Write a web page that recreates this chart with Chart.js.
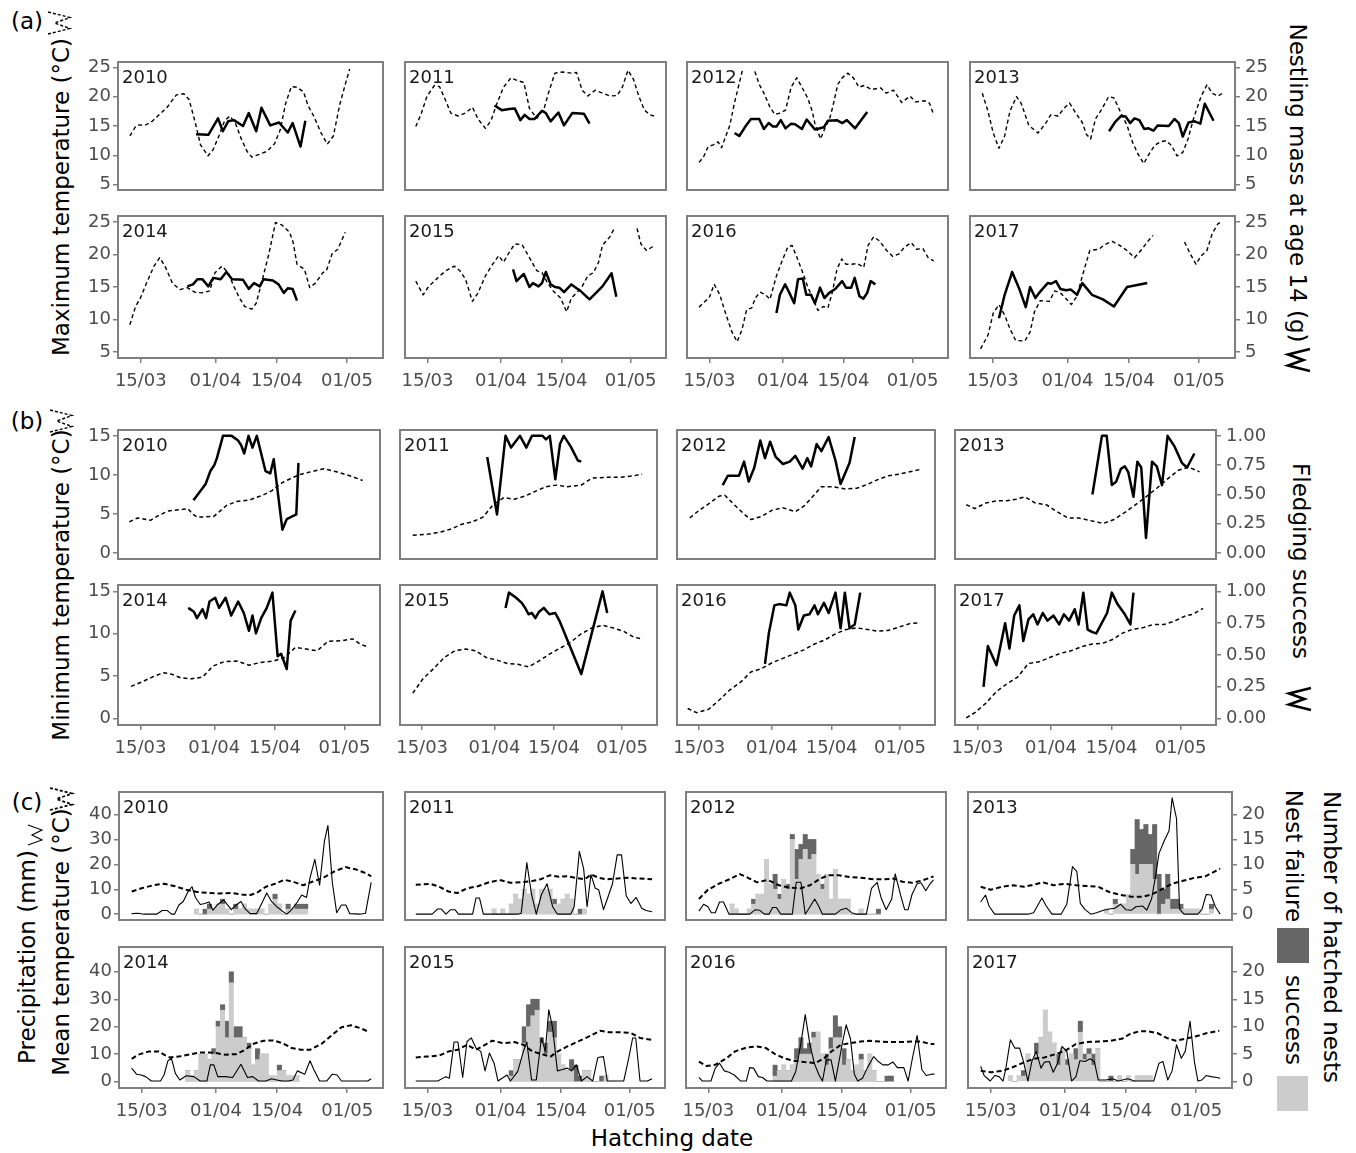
<!DOCTYPE html>
<html>
<head>
<meta charset="utf-8">
<title>Weather, hatching date and breeding performance 2010–2017</title>
<script src="https://cdn.jsdelivr.net/npm/chart.js@4.4.1/dist/chart.umd.min.js"></script>
<style>
  html, body { margin: 0; padding: 0; background: #fff; }
  body { position: relative; width: 1356px; height: 1153px; overflow: hidden; font-family: 'DejaVu Sans', sans-serif; }
  canvas { position: absolute; }
  .t { position: absolute; white-space: nowrap; color: #000; font-size: 23px; line-height: 1; transform: translate(-50%, -50%); }
  .up { transform: translate(-50%, -50%) rotate(-90deg); }
  .down { transform: translate(-50%, -50%) rotate(90deg); }
  svg.key { position: absolute; overflow: visible; }
  .swatch { position: absolute; }
</style>
</head>
<body>

<div class="t" style="left:27px;top:21px">(a)</div>
<div class="t" style="left:27px;top:421px">(b)</div>
<div class="t" style="left:27px;top:802px">(c)</div>

<div class="t up" style="left:61px;top:197px">Maximum temperature (°C)</div>
<div class="t up" style="left:61px;top:585px">Minimum temperature (°C)</div>
<div class="t up" style="left:61px;top:942px">Mean temperature (°C)</div>
<div class="t up" style="left:27px;top:957px">Precipitation (mm)</div>

<div class="t down" style="left:1297px;top:183px">Nestling mass at age 14 (g)</div>
<div class="t down" style="left:1300px;top:561px">Fledging success</div>
<div class="t down" style="left:1331px;top:937px">Number of hatched nests</div>
<div class="t down" style="left:1293px;top:856px">Nest failure</div>
<div class="t down" style="left:1293px;top:1020px">success</div>
<div class="swatch" style="left:1277px;top:928px;width:32px;height:35px;background:#666666"></div>
<div class="swatch" style="left:1277px;top:1076px;width:31px;height:35px;background:#cccccc"></div>

<div class="t" style="left:672px;top:1138px">Hatching date</div>

<!-- line keys drawn beside the axis titles -->
<svg class="key" style="left:48px;top:12px" width="22" height="22"><polyline points="0,22 22,16.5 6.6,11 22,5.5 0,0" fill="none" stroke="#000" stroke-width="1.4" stroke-dasharray="3,2"/></svg>
<svg class="key" style="left:50px;top:410px" width="22" height="22"><polyline points="0,22 22,16.5 6.6,11 22,5.5 0,0" fill="none" stroke="#000" stroke-width="1.4" stroke-dasharray="3,2"/></svg>
<svg class="key" style="left:50px;top:788px" width="22" height="22"><polyline points="0,22 22,16.5 6.6,11 22,5.5 0,0" fill="none" stroke="#000" stroke-width="1.8" stroke-dasharray="3,2"/></svg>
<svg class="key" style="left:28px;top:825px" width="14" height="20"><polyline points="0,20 14,15 4,10 14,5 0,0" fill="none" stroke="#000" stroke-width="1.1"/></svg>
<svg class="key" style="left:1288px;top:349px" width="22" height="22"><polyline points="22,0 0,5.5 15.4,11 0,16.5 22,22" fill="none" stroke="#000" stroke-width="2.6"/></svg>
<svg class="key" style="left:1289px;top:688px" width="22" height="22"><polyline points="22,0 0,5.5 15.4,11 0,16.5 22,22" fill="none" stroke="#000" stroke-width="2.6"/></svg>

<script>
// ---------------------------------------------------------------------------
// Data. Days are counted from 1 March (= day 1), so 1 April = day 32.
// Each series holds one list per year, in the order of YEARS.
// Line series are [day, value] pairs; a null value marks a break in the line.
// Nest counts are [hatching day, number of nests].
// ---------------------------------------------------------------------------
const YEARS = [2010, 2011, 2012, 2013, 2014, 2015, 2016, 2017];

const DAY_TICKS = [15, 32, 46, 62];
const DAY_TICK_LABELS = ['15/03', '01/04', '15/04', '01/05'];

const MAX_TEMP_TICKS = [5, 10, 15, 20, 25];
const MASS_TICKS = [5, 10, 15, 20, 25];
const MIN_TEMP_TICKS = [0, 5, 10, 15];
const FLEDGING_TICKS = [0, 0.25, 0.5, 0.75, 1];
const RAIN_TEMP_TICKS = [0, 10, 20, 30, 40];
const NEST_TICKS = [0, 5, 10, 15, 20];

// (a) maximum temperature (°C)
const maxTemp = [
  [[12.5,13.3],[13.8,14.9],[14.6,15.2],[15.9,15.1],[17.6,15.8],[19.3,17.0],[21.0,18.2],[23.1,20.3],[24.8,20.5],[26.0,19.5],[27.3,15.9],[28.6,11.8],[30.3,9.9],[31.5,11.0],[32.8,13.3],[34.1,15.9],[35.3,16.7],[36.6,15.4],[37.9,12.8],[39.2,10.7],[40.3,9.7],[42.1,10.2],[43.8,10.7],[45.5,12.0],[46.8,14.4],[48.0,18.8],[49.3,21.7],[50.6,21.6],[52.1,20.8],[53.1,18.5],[54.4,16.7],[56.1,13.8],[57.5,11.9],[58.9,13.3],[60.3,18.5],[61.6,22.1],[62.6,24.7]],
  [[12.3,14.9],[13.6,17.2],[14.9,20.1],[16.6,21.9],[17.8,21.7],[19.1,19.5],[20.4,17.2],[22.1,16.7],[23.8,17.2],[25.4,18.2],[26.7,16.2],[28.4,14.6],[29.7,15.9],[30.9,18.5],[32.6,21.6],[34.3,23.2],[36.0,22.7],[37.3,22.4],[38.6,18.0],[40.3,16.3],[42.0,18.0],[43.2,21.1],[44.5,24.0],[46.2,24.2],[48.3,24.0],[49.5,24.1],[50.8,21.1],[52.1,20.1],[53.8,21.1],[55.5,20.6],[57.2,20.1],[58.9,20.2],[60.1,21.6],[61.4,24.5],[62.7,22.9],[63.9,20.1],[65.2,17.7],[66.5,16.9],[67.4,16.7]],
  [[12.6,8.8],[13.6,9.7],[14.7,11.5],[15.9,11.8],[17.0,12.3],[17.8,11.3],[18.7,13.1],[19.7,15.1],[20.8,19.0],[22.1,22.9],[22.7,24.7],[24.0,null],[25.5,24.3],[26.5,22.1],[27.6,20.6],[29.0,18.2],[30.1,17.0],[31.4,17.2],[32.6,17.7],[33.9,21.6],[35.2,23.2],[36.4,21.6],[37.7,19.8],[38.8,17.5],[39.4,15.4],[40.7,12.8],[41.7,14.6],[42.8,16.2],[43.6,18.5],[44.7,22.1],[45.7,23.2],[47.0,24.0],[48.3,23.2],[49.6,21.6],[50.8,21.9],[52.5,21.2],[54.6,21.5],[55.9,20.6],[57.6,21.1],[59.5,19.0],[61.4,20.1],[62.7,19.1],[64.8,19.3],[65.9,18.9],[66.9,16.9]],
  [[12.6,20.6],[13.9,17.5],[15.1,13.8],[16.4,11.2],[17.7,13.3],[18.9,17.5],[20.4,20.0],[21.5,18.8],[23.2,15.1],[25.3,13.8],[27.0,15.4],[28.2,16.9],[29.9,16.7],[31.2,18.0],[32.5,18.9],[33.9,17.2],[35.4,15.6],[36.3,13.6],[37.3,12.8],[38.4,16.2],[39.7,17.7],[41.4,20.0],[42.6,19.8],[43.9,17.7],[45.6,15.1],[46.8,12.3],[48.1,10.2],[49.4,8.6],[50.6,10.2],[51.9,11.7],[53.2,12.3],[54.5,12.5],[55.7,11.7],[57.0,9.9],[58.3,10.5],[59.5,12.8],[60.8,16.4],[62.5,20.1],[63.8,22.0],[65.0,20.6],[66.3,20.1],[67.4,20.6]],
  [[12.5,9.2],[13.8,12.0],[14.9,13.3],[16.3,15.6],[18.0,18.2],[19.3,19.5],[20.5,18.2],[22.2,15.6],[23.9,14.6],[25.6,14.9],[27.3,14.2],[28.9,14.1],[30.7,14.4],[31.9,17.2],[33.5,18.2],[34.9,17.2],[36.2,15.1],[37.5,13.3],[38.7,12.0],[40.3,11.6],[41.3,12.5],[42.5,15.6],[44.2,20.1],[45.7,24.9],[47.2,24.5],[48.9,23.4],[49.7,21.9],[50.6,18.5],[52.3,17.7],[53.5,14.9],[54.8,15.6],[56.5,17.2],[57.3,17.5],[58.6,20.1],[59.9,20.8],[61.6,23.4]],
  [[12.3,15.9],[14.0,13.8],[15.3,15.1],[16.6,15.9],[17.8,16.7],[19.5,17.6],[21.2,18.2],[22.5,17.5],[23.8,16.2],[25.4,12.8],[26.7,14.1],[28.4,16.7],[30.1,18.5],[31.5,19.8],[32.6,18.8],[33.9,20.3],[35.2,21.6],[36.9,21.5],[38.6,19.5],[40.3,17.5],[41.5,17.2],[42.8,15.6],[44.1,14.4],[45.8,13.3],[47.2,11.2],[48.3,13.3],[49.5,14.1],[50.8,15.1],[52.1,16.7],[53.4,17.2],[54.6,18.8],[55.5,21.4],[57.2,22.7],[58.4,24.2],[61.0,null],[63.5,24.0],[64.4,21.6],[65.7,20.6],[66.9,21.1],[67.4,21.4]],
  [[12.6,11.9],[13.6,12.6],[14.9,13.3],[16.1,15.4],[17.4,13.8],[18.7,11.0],[20.2,8.1],[21.4,6.6],[22.5,8.4],[23.6,11.5],[24.8,11.8],[25.6,13.3],[26.7,14.2],[28.0,13.8],[29.0,13.1],[30.5,16.7],[31.8,19.0],[33.1,21.1],[34.1,21.4],[35.4,19.3],[36.6,17.2],[37.7,15.1],[39.0,13.1],[40.1,11.4],[41.3,12.0],[42.4,11.8],[43.4,14.1],[44.5,17.7],[45.6,19.3],[46.6,18.5],[47.9,18.5],[49.2,18.6],[50.7,18.0],[51.7,21.4],[53.0,22.7],[54.3,22.1],[56.0,20.6],[57.4,19.7],[58.9,20.1],[60.1,21.1],[61.7,21.8],[62.9,20.8],[64.4,20.9],[65.6,19.5],[66.9,19.0]],
  [[12.2,5.5],[13.9,7.6],[15.1,11.0],[16.4,12.3],[17.7,10.7],[18.9,8.6],[20.2,6.8],[22.3,6.7],[23.5,8.1],[24.5,11.2],[25.8,12.9],[27.9,12.8],[29.1,14.4],[30.4,14.1],[31.7,13.2],[32.9,12.3],[34.2,13.6],[35.4,16.7],[37.1,20.6],[39.2,20.8],[40.5,21.5],[42.2,22.0],[43.9,21.4],[45.6,20.6],[47.3,19.5],[49.0,20.8],[50.2,21.9],[51.5,22.9],[55.0,null],[58.7,21.9],[60.0,20.1],[61.3,18.5],[62.5,19.8],[63.8,20.6],[65.0,23.2],[66.3,24.7],[67.1,25.0]]
];

// (a) nestling mass at age 14 (g), by hatching date
const nestlingMass = [
  [[27.6,13.6],[30.4,13.5],[32.6,16.3],[33.7,14.1],[34.9,15.8],[36.2,16.0],[38.3,15.0],[39.6,17.2],[41.3,14.1],[42.5,18.1],[44.5,15.1],[46.5,15.6],[48.5,13.9],[49.6,15.5],[51.4,11.5],[52.5,15.9]],
  [[30.5,18.5],[32.2,17.7],[33.9,17.9],[35.2,18.0],[36.5,16.0],[37.5,16.9],[38.6,16.2],[39.8,16.2],[41.5,17.6],[42.4,17.2],[43.5,15.8],[45.3,17.3],[46.6,15.1],[48.5,17.2],[51.2,17.1],[52.5,15.4]],
  [[20.8,13.8],[21.9,13.3],[23.3,14.9],[24.6,16.2],[26.5,16.2],[27.6,14.5],[28.7,15.5],[29.7,14.9],[30.5,14.9],[31.5,16.0],[32.6,14.6],[33.9,15.4],[34.8,15.3],[36.4,14.5],[37.5,16.1],[39.4,14.4],[41.5,14.8],[42.4,15.9],[44.5,16.0],[45.7,15.5],[46.8,16.0],[48.7,14.6],[51.5,17.4]],
  [[41.5,14.1],[42.8,15.6],[44.2,16.7],[45.3,16.6],[46.3,15.5],[47.3,16.3],[48.4,16.0],[49.5,14.5],[50.5,14.6],[51.6,14.2],[52.6,15.1],[55.1,15.0],[56.4,16.2],[57.4,15.5],[58.3,13.2],[59.6,15.6],[61.0,15.8],[62.3,15.4],[63.3,18.8],[65.3,15.9]],
  [[25.6,15.1],[26.9,15.4],[27.9,16.2],[29.0,16.2],[30.4,15.1],[31.5,16.4],[33.2,16.2],[34.5,17.3],[35.8,16.2],[38.3,16.1],[39.6,14.7],[40.8,15.6],[42.1,15.1],[43.0,16.2],[45.1,16.0],[46.4,15.4],[47.6,14.1],[48.5,14.8],[49.6,14.7],[50.6,12.9]],
  [[34.8,17.7],[35.6,15.9],[37.3,17.0],[38.6,15.0],[39.4,15.6],[40.7,15.1],[41.5,15.6],[42.4,17.3],[43.5,15.4],[44.5,15.0],[45.5,14.9],[46.6,14.2],[48.3,15.4],[50.4,14.4],[52.5,13.1],[55.5,15.1],[57.6,17.1],[58.7,13.5]],
  [[30.5,11.0],[31.3,13.8],[32.5,15.4],[33.5,14.1],[34.6,12.5],[35.5,16.2],[36.6,16.3],[37.4,13.8],[38.5,13.8],[39.4,12.5],[40.6,14.9],[41.6,13.3],[42.7,14.1],[44.1,14.7],[45.7,15.9],[46.6,14.9],[47.8,14.9],[48.6,16.4],[49.7,13.6],[50.6,13.2],[51.5,14.1],[52.3,15.9],[53.4,15.4]],
  [[16.4,10.2],[17.7,13.8],[19.4,17.3],[21.1,14.6],[22.5,11.9],[23.5,15.0],[24.7,13.3],[25.8,14.3],[27.5,15.6],[28.3,15.5],[29.4,15.9],[30.4,14.7],[31.7,14.5],[32.8,14.6],[34.2,13.8],[35.4,15.6],[37.6,13.8],[40.1,13.1],[42.6,12.0],[45.6,15.0],[50.2,15.6]]
];

// (b) minimum temperature (°C)
const minTemp = [
  [[12.4,4.0],[14.3,4.5],[17.3,4.2],[19.1,4.8],[21.4,5.4],[24.8,5.6],[25.9,5.7],[27.0,5.0],[28.1,4.6],[31.9,4.7],[34.8,6.1],[37.1,6.6],[40.1,6.8],[43.1,7.4],[45.3,8.0],[47.6,9.0],[49.8,9.6],[52.0,10.1],[55.0,10.5],[57.3,10.8],[60.2,10.4],[63.2,9.9],[66.2,9.3]],
  [[12.8,2.3],[16.1,2.4],[19.4,2.7],[21.9,3.1],[24.3,3.7],[26.8,4.0],[29.3,4.6],[31.7,6.2],[34.2,7.1],[36.7,6.9],[39.2,7.3],[41.6,7.9],[44.1,8.5],[46.6,8.7],[49.1,8.5],[52.4,8.7],[54.9,9.6],[58.2,9.7],[61.5,9.7],[64.8,9.9],[66.7,10.1]],
  [[12.8,4.5],[14.8,5.4],[17.2,6.3],[19.7,7.3],[21.0,7.4],[23.0,6.3],[25.5,5.0],[27.1,4.3],[29.6,4.7],[32.1,5.5],[34.6,5.8],[37.5,5.3],[39.5,6.0],[42.0,7.5],[43.6,8.5],[46.1,8.5],[49.4,8.2],[51.9,8.3],[54.4,8.8],[56.8,9.4],[59.3,9.9],[61.8,10.1],[64.3,10.4],[66.7,10.7]],
  [[12.4,6.2],[14.4,5.7],[16.9,6.4],[19.4,6.7],[21.8,6.7],[24.0,6.9],[26.0,7.2],[28.4,6.4],[30.9,6.2],[33.4,5.3],[35.9,4.5],[38.4,4.5],[40.8,4.2],[44.1,3.8],[46.6,4.3],[49.1,5.2],[51.6,6.2],[54.0,7.2],[56.5,8.3],[59.0,9.5],[61.5,10.6],[63.9,11.0],[66.4,10.4]],
  [[12.8,3.8],[15.2,4.3],[17.7,4.9],[20.2,5.4],[21.8,5.3],[24.3,4.8],[26.8,4.7],[29.3,4.9],[31.7,6.2],[34.2,6.7],[37.2,6.8],[40.0,6.3],[42.5,6.6],[45.8,6.8],[48.2,7.2],[50.7,8.4],[53.2,8.2],[55.7,8.0],[58.2,9.1],[61.5,9.2],[63.9,9.4],[65.6,8.8],[67.6,8.4]],
  [[12.8,3.0],[15.2,4.7],[17.7,5.9],[20.2,7.2],[22.7,8.0],[25.1,8.2],[27.6,8.0],[30.1,7.2],[32.6,6.9],[35.0,6.5],[37.5,6.4],[40.0,6.1],[42.5,6.8],[44.9,7.6],[47.4,8.3],[49.9,9.0],[52.4,10.0],[54.9,10.7],[57.4,11.0],[59.8,10.7],[62.3,10.3],[64.8,9.6],[66.7,9.4]],
  [[12.3,1.2],[14.4,0.7],[17.2,1.1],[19.7,2.2],[22.2,3.4],[24.7,4.3],[27.1,5.5],[29.6,5.9],[32.1,6.6],[34.6,7.1],[37.0,7.6],[39.5,8.1],[42.0,8.8],[44.5,9.3],[46.9,10.0],[49.4,10.5],[51.9,10.7],[54.4,10.5],[56.8,10.3],[59.3,10.4],[61.8,10.8],[64.3,11.2],[66.7,11.3]],
  [[12.4,0.1],[14.4,0.7],[16.9,1.8],[19.4,3.2],[21.8,4.1],[24.3,4.9],[26.8,6.5],[29.3,6.7],[31.7,7.2],[34.2,7.7],[36.7,8.0],[39.2,8.5],[41.6,8.8],[44.1,8.9],[46.6,9.4],[48.2,10.0],[50.7,10.5],[53.2,10.7],[55.7,11.1],[58.2,11.1],[60.6,11.5],[63.1,12.1],[64.8,12.3],[67.2,13.0]]
];

// (b) fledging success (proportion of nestlings fledged), by hatching date
const fledgingSuccess = [
  [[27.2,0.45],[30.0,0.59],[31.1,0.70],[32.0,0.75],[32.6,0.81],[34.0,1.0],[36.0,1.0],[37.5,0.96],[38.2,0.92],[38.9,0.85],[39.9,1.0],[40.8,0.90],[41.8,1.0],[43.8,0.70],[44.9,0.68],[45.7,0.80],[47.7,0.20],[48.7,0.29],[50.9,0.33],[51.4,0.77]],
  [[30.3,0.82],[32.6,0.33],[34.6,1.0],[35.9,0.90],[38.0,1.0],[39.5,0.90],[40.8,1.0],[43.3,1.0],[44.1,0.97],[45.0,1.0],[46.3,0.63],[47.4,0.93],[48.3,1.0],[49.9,0.91],[51.6,0.79],[52.4,0.78]],
  [[20.5,0.58],[21.7,0.66],[24.3,0.66],[25.5,0.78],[26.6,0.61],[27.9,0.73],[29.3,0.96],[30.4,0.81],[31.6,0.95],[32.9,0.82],[34.6,0.76],[36.2,0.78],[37.5,0.83],[39.2,0.72],[40.3,0.81],[41.2,0.74],[42.5,0.93],[43.6,0.87],[45.3,0.99],[46.9,0.79],[48.1,0.59],[50.2,0.77],[51.4,0.99]],
  [[41.6,0.50],[43.8,1.0],[44.9,1.0],[46.1,0.58],[47.1,0.61],[48.2,0.72],[49.1,0.74],[49.9,0.69],[51.1,0.48],[52.0,0.78],[52.9,0.73],[54.0,0.13],[55.4,0.78],[56.5,0.74],[57.7,0.58],[59.0,1.0],[60.6,0.91],[62.3,0.77],[63.5,0.73],[65.2,0.85]],
  [[26.0,0.87],[27.3,0.84],[28.0,0.79],[29.3,0.86],[30.1,0.79],[30.9,0.92],[32.2,0.95],[33.1,0.87],[34.6,0.95],[35.9,0.81],[37.5,0.92],[38.8,0.83],[40.0,0.69],[40.8,0.81],[41.6,0.67],[42.8,0.79],[44.1,0.87],[45.4,0.99],[46.6,0.49],[47.4,0.51],[48.7,0.39],[49.6,0.77],[50.7,0.85]],
  [[34.6,0.87],[35.4,0.99],[37.1,0.95],[38.4,0.91],[39.2,0.87],[40.0,0.82],[40.8,0.83],[41.6,0.79],[42.5,0.84],[43.6,0.87],[44.9,0.82],[46.3,0.83],[47.4,0.76],[52.4,0.35],[57.4,1.0],[58.5,0.83]],
  [[30.4,0.43],[31.3,0.67],[32.6,0.89],[33.7,0.90],[35.4,0.89],[36.2,0.99],[37.5,0.89],[38.2,0.70],[39.5,0.81],[40.8,0.82],[42.0,0.89],[42.8,0.82],[44.2,0.91],[45.3,0.83],[46.9,0.99],[48.1,0.71],[49.1,0.99],[50.2,0.71],[51.4,0.74],[52.7,0.99]],
  [[16.4,0.25],[17.4,0.57],[19.4,0.42],[21.4,0.75],[22.4,0.55],[23.5,0.81],[24.7,0.89],[25.6,0.61],[26.8,0.78],[27.9,0.82],[28.9,0.74],[30.1,0.83],[31.2,0.77],[32.6,0.81],[33.9,0.74],[35.0,0.82],[36.2,0.77],[37.5,0.86],[38.4,0.74],[39.5,0.99],[40.5,0.70],[41.6,0.68],[42.5,0.67],[45.0,0.83],[46.1,0.99],[47.4,0.90],[49.1,0.82],[50.4,0.74],[51.1,0.99]]
];

// (c) daily precipitation (mm)
const precipitation = [
  [[12.7,0.2],[14.2,0.4],[15.5,0],[18.4,0],[19.7,1.5],[20.8,1.5],[21.8,0],[22.5,0],[23.5,3.7],[24.5,5.1],[25.6,9.1],[26.5,11.0],[27.3,6.7],[28.4,3.9],[29.4,4.3],[30.4,4.9],[31.3,1.6],[32.4,3.9],[33.7,5.7],[34.5,4.0],[35.5,1.8],[36.6,3.7],[37.7,5.1],[38.7,2.1],[39.8,0.2],[41.3,0.2],[42.5,4.5],[43.6,8.5],[44.7,5.1],[45.9,3.0],[47.2,1.2],[48.2,0],[49.3,1.8],[50.6,4.9],[51.6,7.7],[52.7,6.7],[53.5,14.6],[54.6,22.0],[55.7,11.6],[56.8,29.3],[57.6,35.6],[58.6,12.8],[59.6,0.6],[60.7,3.7],[61.7,3.7],[62.6,0.2],[64.9,0],[66.2,0.4],[67.5,12.8]],
  [[12.3,0],[16.1,0],[17.4,2.1],[18.2,2.1],[19.3,0],[20.4,1.8],[21.4,1.8],[22.2,0],[25.5,0],[26.3,6.5],[27.1,6.5],[28.0,0],[36.0,0],[36.8,0.4],[38.1,20.7],[39.2,7.9],[40.3,0],[41.5,7.9],[42.8,12.2],[44.1,3.0],[45.2,0],[48.3,0],[49.1,3.0],[50.3,25.2],[51.3,18.3],[52.1,3.0],[53.0,15.9],[54.0,10.4],[54.8,9.8],[55.9,1.8],[56.8,6.1],[58.0,12.2],[59.1,23.8],[60.1,23.8],[61.2,7.3],[62.3,4.3],[63.5,6.7],[64.8,2.4],[65.8,1.5],[67.2,1.0]],
  [[12.8,1.2],[13.9,4.0],[14.9,3.0],[15.7,0.6],[16.6,0.6],[17.6,4.9],[18.5,4.9],[19.8,0],[24.6,0],[25.9,1.8],[26.9,1.6],[28.0,0],[29.1,0],[29.9,2.7],[30.8,2.7],[31.8,0],[34.5,0],[35.4,12.8],[36.5,12.8],[37.5,0],[38.6,3.0],[39.7,6.1],[40.7,3.0],[41.5,0],[44.5,0],[45.8,1.8],[47.0,2.4],[48.3,0.6],[49.4,0],[51.7,0],[52.9,10.4],[54.2,12.8],[55.1,6.7],[56.3,1.8],[57.6,6.1],[58.4,16.2],[59.7,7.3],[60.6,1.8],[61.4,1.8],[62.3,7.9],[63.5,12.2],[64.4,12.6],[65.5,9.4],[66.5,12.2],[67.3,13.8]],
  [[12.7,4.9],[13.8,7.7],[14.6,3.3],[15.9,0],[23.5,0],[24.8,0.6],[26.7,6.5],[27.7,3.3],[29.0,0],[31.1,0],[32.4,4.0],[33.7,19.1],[34.7,17.1],[35.5,4.3],[36.6,1.8],[37.9,0],[39.2,0.6],[40.8,1.6],[42.1,2.1],[43.4,2.4],[44.7,4.0],[45.9,1.8],[47.2,1.6],[48.2,3.0],[49.7,3.3],[50.7,1.6],[51.8,6.1],[52.7,15.2],[53.5,24.4],[54.8,29.9],[55.8,33.5],[56.5,46.7],[57.5,38.4],[58.2,2.1],[59.2,0],[62.4,0],[63.3,1.8],[64.3,7.9],[65.4,7.7],[66.4,3.0],[67.5,0]],
  [[12.7,4.9],[13.8,2.7],[14.9,2.4],[15.9,1.8],[17.2,0.2],[19.3,0.2],[20.1,2.4],[21.0,7.6],[21.8,8.5],[22.7,3.0],[23.7,0.6],[25.2,2.1],[26.9,1.8],[28.4,0.2],[29.9,0.2],[30.7,6.1],[31.5,6.1],[32.4,1.8],[34.1,1.8],[35.8,1.5],[37.7,6.3],[39.2,1.5],[40.4,1.8],[41.7,0.2],[43.4,0.2],[44.7,1.0],[45.9,0.6],[47.2,0.2],[48.5,0.2],[49.6,0.6],[50.6,3.9],[52.3,2.7],[53.5,7.6],[54.4,4.3],[55.7,0.2],[57.3,0.2],[58.6,2.7],[59.7,2.4],[60.7,0.2],[66.7,0.2],[67.5,1.0]],
  [[12.3,0.2],[17.4,0.2],[19.3,1.8],[20.1,1.2],[21.2,14.4],[22.1,14.4],[23.2,1.5],[24.2,14.6],[25.2,15.9],[26.3,12.2],[27.4,11.0],[28.4,3.9],[29.4,10.4],[30.5,6.7],[31.4,0.2],[33.5,2.4],[34.3,0.2],[36.0,3.7],[37.3,11.0],[38.1,14.4],[39.2,0.6],[40.3,0.6],[41.5,15.9],[42.4,11.0],[43.2,26.2],[44.1,19.5],[45.2,3.9],[46.2,4.3],[47.5,4.9],[48.5,3.9],[49.6,6.1],[50.8,0.2],[52.1,1.8],[53.4,0.2],[54.6,8.8],[55.9,9.1],[56.8,0.2],[60.6,0.2],[61.6,7.3],[62.7,15.9],[63.4,15.9],[64.4,0.2],[66.1,0.2],[67.2,1.0]],
  [[12.8,1.5],[13.6,0.2],[15.6,0.2],[16.6,4.9],[17.6,6.7],[18.7,3.9],[19.8,3.4],[21.0,2.4],[22.5,0.2],[23.8,0.2],[24.6,5.1],[25.5,4.9],[26.6,1.8],[27.6,1.5],[28.6,0.2],[34.3,0.2],[35.3,3.7],[36.5,14.0],[37.5,24.4],[38.6,13.4],[39.6,6.7],[40.7,2.4],[41.5,0.2],[42.4,7.9],[43.5,7.9],[44.5,0.2],[46.2,14.6],[47.0,20.7],[48.0,15.6],[48.9,2.7],[49.7,0.2],[50.8,1.2],[51.9,4.9],[53.4,9.1],[54.5,7.3],[55.5,6.1],[56.8,6.1],[57.9,7.1],[58.9,5.1],[60.4,5.1],[61.4,0.2],[62.4,8.5],[63.5,16.8],[64.6,4.3],[65.6,2.2],[66.9,2.7],[67.5,2.7]],
  [[12.7,5.5],[13.5,2.2],[14.9,0.2],[15.9,2.2],[16.9,1.8],[17.8,0.2],[18.4,4.3],[19.5,15.2],[20.5,12.2],[21.6,12.2],[22.5,7.3],[23.5,0.2],[24.4,7.3],[25.4,11.0],[26.5,4.9],[27.3,7.1],[28.4,7.3],[29.3,3.4],[30.3,6.7],[31.3,12.8],[32.4,11.0],[33.5,0.2],[34.5,1.8],[35.4,7.6],[36.6,7.3],[37.7,8.3],[38.7,7.3],[39.6,0.6],[41.3,0.6],[42.9,1.0],[44.2,0.2],[46.3,1.0],[48.0,0.2],[52.3,0.2],[53.5,6.7],[54.4,7.3],[55.5,0.6],[56.5,3.9],[57.5,13.4],[58.6,8.5],[59.5,11.0],[60.6,22.0],[61.6,7.3],[62.4,0.2],[63.3,0.6],[64.3,2.2],[65.4,1.8],[66.7,1.5],[67.5,1.2]]
];

// (c) mean temperature (°C)
const meanTemp = [
  [[12.7,9.1],[15.0,10.4],[17.6,11.6],[20.1,12.2],[22.7,11.2],[25.2,9.8],[27.7,8.9],[30.3,8.5],[32.8,8.3],[35.4,8.5],[37.9,7.9],[39.6,7.6],[41.3,8.5],[43.4,11.0],[45.5,12.2],[47.6,13.8],[49.7,13.0],[51.9,11.6],[54.0,13.0],[56.5,14.6],[59.0,17.1],[61.6,18.9],[64.1,17.9],[66.2,16.5],[67.5,15.2]],
  [[12.3,11.8],[15.7,12.2],[17.8,11.0],[19.9,9.1],[22.0,8.5],[24.2,10.4],[26.7,11.2],[29.3,12.8],[31.8,13.7],[34.3,12.6],[37.0,12.8],[39.6,13.4],[41.3,14.0],[43.4,15.6],[45.5,15.0],[47.6,15.2],[49.3,14.6],[51.5,14.0],[53.1,15.9],[54.8,14.6],[56.5,14.0],[59.1,14.3],[61.6,14.6],[64.1,14.3],[67.2,14.0]],
  [[12.8,6.1],[14.9,9.8],[17.4,12.2],[19.9,14.0],[22.3,16.1],[24.2,14.6],[26.3,12.8],[28.8,13.7],[31.4,11.6],[33.9,10.6],[36.4,10.4],[38.6,11.6],[40.7,14.0],[42.8,15.6],[45.3,15.6],[47.9,14.9],[50.4,14.6],[53.4,14.0],[55.9,14.0],[58.0,14.3],[60.1,13.0],[62.3,12.6],[64.4,13.4],[66.5,14.6],[67.3,15.2]],
  [[12.7,11.0],[15.0,9.8],[17.6,11.0],[20.1,11.6],[22.7,11.0],[24.8,11.8],[26.9,12.8],[29.4,11.6],[32.0,12.2],[34.5,11.6],[37.0,11.3],[39.6,11.0],[42.1,8.9],[44.7,7.7],[47.2,7.0],[49.7,7.0],[51.8,7.9],[53.9,9.8],[56.5,12.2],[59.0,13.4],[61.6,14.6],[64.1,15.2],[66.2,17.1],[67.5,18.3]],
  [[12.7,8.3],[14.2,9.8],[16.7,11.0],[18.9,11.0],[20.1,9.8],[21.4,8.8],[23.5,9.1],[25.6,9.8],[28.2,10.6],[30.3,10.6],[32.0,10.4],[34.1,9.8],[36.6,10.0],[38.7,11.6],[40.4,13.7],[42.9,14.9],[45.1,15.0],[47.2,14.0],[49.3,12.2],[51.4,11.6],[53.5,11.6],[56.1,13.7],[58.2,16.5],[60.7,19.8],[62.9,20.5],[65.0,19.5],[67.1,18.0]],
  [[12.3,8.8],[14.9,9.1],[17.8,9.5],[19.9,11.0],[22.1,11.6],[24.2,13.4],[26.3,11.6],[28.4,13.4],[30.1,14.9],[32.6,14.0],[35.2,14.4],[37.3,13.4],[39.4,11.0],[41.5,10.0],[43.6,9.1],[45.3,11.0],[47.5,12.8],[50.0,14.6],[52.1,16.1],[55.1,18.5],[57.2,18.0],[59.7,18.0],[62.3,17.7],[64.4,15.9],[67.2,15.2]],
  [[12.8,7.3],[14.5,5.7],[16.6,6.1],[19.2,8.5],[21.2,11.0],[23.8,12.4],[26.3,12.8],[28.4,12.2],[30.5,10.0],[32.6,8.5],[34.8,7.6],[37.3,7.1],[39.8,6.7],[41.9,8.5],[43.6,11.0],[45.8,13.4],[47.9,14.0],[50.4,14.6],[52.5,14.9],[54.7,14.6],[57.2,14.4],[59.7,14.4],[62.3,14.6],[64.4,14.6],[66.5,13.7],[67.5,13.7]],
  [[12.7,3.9],[15.1,3.4],[17.6,3.9],[19.8,5.1],[22.2,6.7],[24.8,8.3],[27.3,8.8],[29.8,10.0],[32.0,11.2],[34.5,13.7],[37.0,14.4],[39.6,14.6],[42.5,14.9],[45.0,15.6],[46.8,17.3],[48.9,18.3],[51.0,18.3],[53.1,17.7],[55.3,15.9],[57.3,14.9],[59.5,15.6],[62.0,16.5],[64.5,17.7],[67.3,18.5]]
];

// (c) hatched nests per hatching day that fledged young (success)
const nestSuccess = [
  [[27,1],[30,1],[31,1],[32,2],[33,2],[34,1],[36,1],[37,1],[38,2],[39,1],[40,1],[41,1],[42,1],[44,2],[45,3],[46,2],[48,1],[49,1],[50,1],[51,1],[52,1]],
  [[30,1],[32,1],[34,2],[35,4],[36,3],[37,5],[38,4],[39,5],[40,2],[41,5],[42,5],[43,5],[44,2],[45,2],[46,3],[47,4],[48,3],[51,1]],
  [[20,2],[21,1],[24,1],[25,2],[26,4],[27,4],[28,11],[29,6],[30,5],[31,3],[32,7],[33,5],[34,15],[35,7],[36,11],[37,13],[38,11],[39,12],[40,8],[41,5],[42,8],[43,3],[44,9],[45,3],[46,3],[47,3],[50,1]],
  [[41,1],[43,2],[44,2],[45,2],[46,4],[47,10],[48,8],[49,10],[50,10],[51,10],[52,7],[54,2],[55,3],[56,1],[57,1],[58,1],[59,1],[60,1],[61,1],[62,1],[65,1]],
  [[25,2],[26,1],[27,2],[28,5],[29,5],[30,4],[31,5],[32,10],[33,13],[34,8],[35,18],[36,8],[37,8],[38,8],[39,6],[40,3],[41,4],[42,5],[43,5],[44,1],[45,1],[46,2],[47,2],[48,1],[49,1],[50,1]],
  [[34,1],[35,4],[36,4],[37,7],[38,10],[39,12],[40,13],[41,7],[42,5],[43,9],[44,8],[45,5],[46,3],[47,2],[48,2],[51,2],[52,2],[56,1]],
  [[30,1],[31,2],[32,3],[33,2],[34,3],[35,4],[36,5],[37,5],[38,5],[39,8],[40,9],[41,5],[42,3],[43,6],[44,8],[45,8],[46,3],[47,4],[48,2],[49,3],[50,4],[51,2],[52,5],[53,2]],
  [[19,1],[21,1],[22,1],[23,5],[24,4],[25,5],[26,8],[27,13],[28,9],[29,7],[30,3],[31,6],[32,3],[33,5],[34,4],[35,9],[36,4],[37,5],[38,3],[39,6],[44,1],[46,1],[48,1],[49,1],[50,1],[51,1]]
];

// (c) hatched nests per hatching day that failed
const nestFailure = [
  [[29,1],[30,1],[33,1],[36,1],[45,1],[48,1],[50,1],[51,1],[52,1]],
  [[44,1],[50,1]],
  [[25,1],[30,3],[31,1],[33,1],[34,1],[35,6],[36,3],[37,3],[38,4],[39,3],[41,1],[54,1]],
  [[43,1],[47,3],[48,11],[49,7],[50,8],[51,6],[52,11],[53,8],[54,3],[55,5],[56,2],[57,2],[58,1],[65,1]],
  [[31,1],[32,1],[33,1],[34,3],[35,2],[36,2],[37,2],[39,1],[41,2],[46,1]],
  [[34,1],[37,3],[38,4],[39,3],[40,2],[41,1],[42,2],[43,2],[44,3],[48,2],[49,3],[50,1],[55,1]],
  [[30,2],[35,2],[36,3],[37,1],[38,2],[39,1],[42,2],[43,2],[44,4],[45,2],[46,3],[50,1],[56,1],[57,1]],
  [[22,1],[25,2],[30,2],[32,1],[34,2],[35,2],[36,1],[37,1],[38,2],[42,1]]
];

// ---------------------------------------------------------------------------
// Drawing
// ---------------------------------------------------------------------------
Chart.defaults.font.family = "'DejaVu Sans', sans-serif";
Chart.defaults.font.size = 18;
Chart.defaults.color = '#4d4d4d';

const FRAME_COLOR = '#7f7f7f';
const TICK_COLOR = '#4d4d4d';
const DAY_MIN = 9.8, DAY_MAX = 70.2;

function toPoints(list) {
  return list.map(([x, y]) => ({ x, y }));
}

// One bar per hatching day; each bin covers the whole day, from the date to the next.
function dailyBins(list, first, last) {
  const counts = new Map(list);
  const out = [];
  for (let d = first; d <= last; d++) out.push({ x: d + 0.5, y: counts.get(d) || 0 });
  return out;
}

const panelFrame = {
  id: 'panelFrame',
  afterDatasetsDraw(chart, args, opts) {
    const { ctx, chartArea: { left, top, right, bottom } } = chart;
    ctx.save();
    ctx.strokeStyle = FRAME_COLOR;
    ctx.lineWidth = 2;
    ctx.strokeRect(left, top, right - left, bottom - top);
    ctx.fillStyle = '#1a1a1a';
    ctx.font = "18px 'DejaVu Sans', sans-serif";
    ctx.textBaseline = 'alphabetic';
    ctx.textAlign = 'left';
    ctx.fillText(String(opts.year), left + 4, top + 21);
    ctx.restore();
  }
};

function dashedLine(list, axis, width, dash) {
  return { type: 'line', data: toPoints(list), yAxisID: axis, borderColor: '#000', borderWidth: width,
           borderDash: dash, pointRadius: 0, tension: 0, spanGaps: false, borderJoinStyle: 'round', order: 0 };
}
function solidLine(list, axis, width, order) {
  return { type: 'line', data: toPoints(list), yAxisID: axis, borderColor: '#000', borderWidth: width,
           pointRadius: 0, tension: 0, spanGaps: false, borderJoinStyle: 'round', order: order };
}

const fmtInt = v => String(v);
const fmt2 = v => v.toFixed(2);

const SECTIONS = [
  {
    rows: [[62, 202], [216, 358]],
    cols: [[118, 387], [401, 670], [683, 952], [966, 1235]],
    left: { min: 4.1, max: 25.9, ticks: MAX_TEMP_TICKS, fmt: fmtInt },
    right: { min: 4.1, max: 25.9, ticks: MASS_TICKS, fmt: fmtInt },
    stacked: false,
    datasets: i => [
      solidLine(nestlingMass[i], 'yR', 2.5, 0),
      dashedLine(maxTemp[i], 'yL', 1.4, [4, 3])
    ]
  },
  {
    rows: [[430, 571], [585, 725]],
    cols: [[118, 384], [396, 661], [673, 939], [951, 1216]],
    left: { min: -0.75, max: 15.75, ticks: MIN_TEMP_TICKS, fmt: fmtInt },
    right: { min: -0.05, max: 1.05, ticks: FLEDGING_TICKS, fmt: fmt2 },
    stacked: false,
    datasets: i => [
      solidLine(fledgingSuccess[i], 'yR', 2.5, 0),
      dashedLine(minTemp[i], 'yL', 1.5, [4, 3])
    ]
  },
  {
    rows: [[792, 932], [947, 1088]],
    cols: [[119, 387], [401, 669], [682, 950], [964, 1232]],
    left: { min: -2.34, max: 49.04, ticks: RAIN_TEMP_TICKS, fmt: fmtInt },
    right: { min: -1.17, max: 24.52, ticks: NEST_TICKS, fmt: fmtInt },
    stacked: true,
    datasets: i => {
      const days = nestSuccess[i].concat(nestFailure[i]).map(p => p[0]);
      const first = Math.min(...days), last = Math.max(...days);
      return [
        dashedLine(meanTemp[i], 'yL', 2, [5, 3]),
        solidLine(precipitation[i], 'yL', 1.1, 1),
        { type: 'bar', data: dailyBins(nestSuccess[i], first, last), yAxisID: 'yR', stack: 'nests',
          backgroundColor: '#cccccc', borderWidth: 0, barPercentage: 1, categoryPercentage: 1, order: 2 },
        { type: 'bar', data: dailyBins(nestFailure[i], first, last), yAxisID: 'yR', stack: 'nests',
          backgroundColor: '#666666', borderWidth: 0, barPercentage: 1, categoryPercentage: 1, order: 3 }
      ];
    }
  }
];

function yAxis(cfg, position, shown, width, stacked) {
  return {
    type: 'linear', position, display: shown, min: cfg.min, max: cfg.max, stacked,
    afterBuildTicks: s => { s.ticks = cfg.ticks.map(v => ({ value: v })); },
    afterFit: s => { s.width = width; s.paddingTop = 0; s.paddingBottom = 0; },
    ticks: { callback: v => cfg.fmt(v), padding: position === 'left' ? 2 : 5, color: TICK_COLOR, font: { size: 18 } },
    grid: { drawOnChartArea: false, drawTicks: true, tickLength: 5, color: FRAME_COLOR, lineWidth: 1.5 },
    border: { display: false }
  };
}

function buildPanel(sec, r, c) {
  const yearIndex = r * 4 + c;
  const [x0, x1] = sec.cols[c];
  const [y0, y1] = sec.rows[r];
  const hasL = c === 0, hasR = c === 3, hasB = r === 1;
  const L = hasL ? 75 : 4, R = hasR ? 60 : 4, T = 12, B = hasB ? 42 : 12;
  const W = (x1 - x0) + L + R, H = (y1 - y0) + T + B;
  const cv = document.createElement('canvas');
  cv.width = W; cv.height = H;
  cv.style.left = (x0 - L) + 'px';
  cv.style.top = (y0 - T) + 'px';
  cv.style.width = W + 'px';
  cv.style.height = H + 'px';
  document.body.appendChild(cv);

  new Chart(cv, {
    type: 'line',
    data: { datasets: sec.datasets(yearIndex) },
    options: {
      responsive: false, maintainAspectRatio: false, animation: false, devicePixelRatio: 1, events: [],
      layout: { padding: { left: hasL ? 0 : L, right: hasR ? 0 : R, top: T, bottom: hasB ? 0 : B } },
      plugins: { legend: { display: false }, tooltip: { enabled: false }, panelFrame: { year: YEARS[yearIndex] } },
      scales: {
        x: {
          type: 'linear', display: hasB, min: DAY_MIN, max: DAY_MAX, stacked: sec.stacked, offset: false,
          afterBuildTicks: s => { s.ticks = DAY_TICKS.map(v => ({ value: v })); },
          afterFit: s => { s.height = B; s.paddingLeft = 0; s.paddingRight = 0; },
          ticks: { callback: v => DAY_TICK_LABELS[DAY_TICKS.indexOf(v)], autoSkip: false, maxRotation: 0, minRotation: 0,
                   padding: 8, color: TICK_COLOR, font: { size: 18 } },
          grid: { drawOnChartArea: false, drawTicks: true, tickLength: 5, color: FRAME_COLOR, lineWidth: 1.5, offset: false },
          border: { display: false }
        },
        yL: yAxis(sec.left, 'left', hasL, L, false),
        yR: yAxis(sec.right, 'right', hasR, R, sec.stacked)
      }
    },
    plugins: [panelFrame]
  });
}

SECTIONS.forEach(sec => {
  for (let r = 0; r < 2; r++) for (let c = 0; c < 4; c++) buildPanel(sec, r, c);
});
</script>
</body>
</html>
